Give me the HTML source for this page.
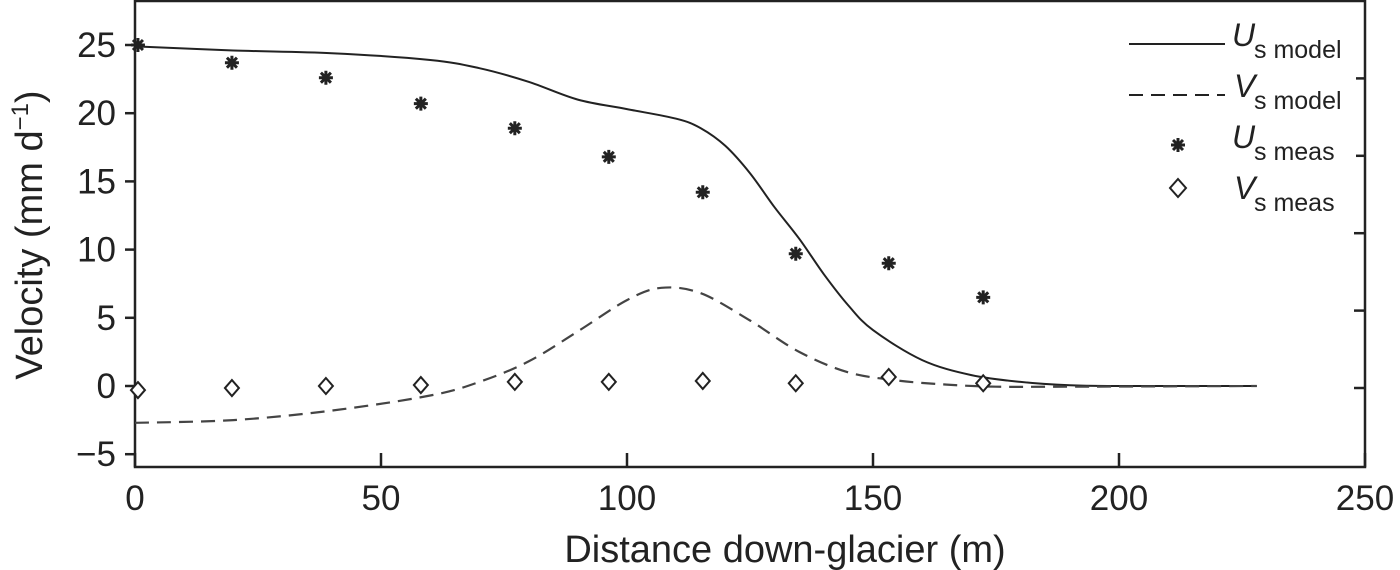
<!DOCTYPE html>
<html><head><meta charset="utf-8"><style>
html,body{margin:0;padding:0;background:#fff;}
svg{display:block;font-family:"Liberation Sans",sans-serif;}
</style></head><body>
<svg id="chart" width="1400" height="570" viewBox="0 0 1400 570">
<g id="axes"></g>
<g id="series"></g>
<g id="legend">
  <rect x="1120" y="14" width="236" height="212" fill="#fff"/>
  <g>
    <line x1="1129" y1="44" x2="1225" y2="44" stroke="#222" stroke-width="2"/>
    <text x="1232" y="46" font-size="32" font-style="italic" fill="#222">U</text>
    <text x="1254" y="58" font-size="25" fill="#222">s model</text>
  </g>
  <g>
    <line x1="1129" y1="95" x2="1225" y2="95" stroke="#222" stroke-width="2" stroke-dasharray="14,8"/>
    <text x="1234" y="97" font-size="32" font-style="italic" fill="#222">V</text>
    <text x="1254" y="109" font-size="25" fill="#222">s model</text>
  </g>
  <g>
    <g stroke="#222" stroke-width="3">
      <line x1="1178" y1="138" x2="1178" y2="152"/><line x1="1171" y1="145" x2="1185" y2="145"/>
      <line x1="1173" y1="140" x2="1183" y2="150"/><line x1="1173" y1="150" x2="1183" y2="140"/>
    </g>
    <text x="1232" y="148" font-size="32" font-style="italic" fill="#222">U</text>
    <text x="1254" y="160" font-size="25" fill="#222">s meas</text>
  </g>
  <g>
    <path d="M1178,179 L1186,188 L1178,197 L1170,188 Z" fill="#fff" stroke="#222" stroke-width="2"/>
    <text x="1234" y="199" font-size="32" font-style="italic" fill="#222">V</text>
    <text x="1254" y="211" font-size="25" fill="#222">s meas</text>
  </g>
</g>
<text x="42" y="235" font-size="38" fill="#222" text-anchor="middle" transform="rotate(-90 42 235)">Velocity (mm d<tspan font-size="24" dy="-14">−1</tspan><tspan dy="14">)</tspan></text>
<text x="785" y="562" font-size="38" fill="#222" text-anchor="middle">Distance down-glacier (m)</text>
</svg>
<script>
const xTicks = [0, 50, 100, 150, 200, 250];
const yTicks = [-5, 0, 5, 10, 15, 20, 25];
const uModelX = [0, 20, 40, 60, 70, 80, 90, 100, 110, 115, 120, 125, 130, 135, 140, 145, 150, 160, 170, 180, 190, 200, 228];
const uModelY = [24.9, 24.6, 24.4, 23.9, 23.3, 22.3, 21.0, 20.3, 19.6, 18.9, 17.6, 15.6, 13.1, 10.8, 8.2, 5.9, 4.1, 1.9, 0.8, 0.3, 0.05, 0, 0];
const vModelX = [0, 20, 40, 60, 70, 80, 90, 100, 107, 115, 125, 135, 145, 155, 165, 175, 190, 228];
const vModelY = [-2.7, -2.5, -1.8, -0.7, 0.3, 1.8, 4.0, 6.3, 7.2, 6.8, 4.8, 2.5, 1.0, 0.4, 0.1, -0.05, -0.05, 0];
const measX = [0.6, 19.7, 38.8, 58.1, 77.2, 96.3, 115.4, 134.3, 153.2, 172.4];
const uMeas = [25.0, 23.7, 22.6, 20.7, 18.9, 16.8, 14.2, 9.7, 9.0, 6.5];
const vMeas = [-0.3, -0.15, 0.0, 0.07, 0.3, 0.3, 0.37, 0.2, 0.66, 0.2];

const NS = "http://www.w3.org/2000/svg";
const X0 = 135, X1 = 1365, Y0 = 467, Y1 = 1;
const xs = v => X0 + v / 250 * (X1 - X0);
const ys = v => 386 - v * 13.64;
function mk(tag, attrs, parent) {
  const e = document.createElementNS(NS, tag);
  for (const k in attrs) e.setAttribute(k, attrs[k]);
  parent.appendChild(e);
  return e;
}
const axes = document.getElementById('axes');
const series = document.getElementById('series');
const frame = mk('rect', {x: X0, y: Y1, width: X1 - X0, height: Y0 - Y1, fill: 'none', stroke: '#222', 'stroke-width': 2.5}, axes);


xTicks.forEach(t => {
  const x = xs(t);
  const tk = mk('line', {x1: x, y1: Y0, x2: x, y2: Y0 - 14, stroke: '#222', 'stroke-width': 2.5}, axes);
  
  
  const lb = mk('text', {x: x, y: 510, 'font-size': 35, 'text-anchor': 'middle', fill: '#222'}, axes);
  lb.textContent = t;
  
  
});
yTicks.forEach(t => {
  const y = ys(t);
  const tk = mk('line', {x1: X0 - 10, y1: y, x2: X0, y2: y, stroke: '#222', 'stroke-width': 2.5}, axes);
  
  
  const lb = mk('text', {x: 116, y: y + 12, 'font-size': 35, 'text-anchor': 'end', fill: '#222'}, axes);
  lb.textContent = t < 0 ? '−' + Math.abs(t) : t;
  
  
});
for (let k = 0; k < 5; k++) {
  const y = 388 - 77.4 * k;
  const tk = mk('line', {x1: X1 - 11, y1: y, x2: X1, y2: y, stroke: '#222', 'stroke-width': 2.5}, axes);
  
  
}
function path(xa, ya) {
  const p = xa.map((v, i) => [xs(v), ys(ya[i])]);
  let d = 'M' + p[0][0].toFixed(1) + ',' + p[0][1].toFixed(1);
  for (let i = 0; i < p.length - 1; i++) {
    const p0 = p[Math.max(0, i - 1)], p1 = p[i], p2 = p[i + 1], p3 = p[Math.min(p.length - 1, i + 2)];
    const c1x = p1[0] + (p2[0] - p0[0]) / 6, c1y = p1[1] + (p2[1] - p0[1]) / 6;
    const c2x = p2[0] - (p3[0] - p1[0]) / 6, c2y = p2[1] - (p3[1] - p1[1]) / 6;
    d += ` C${c1x.toFixed(1)},${c1y.toFixed(1)} ${c2x.toFixed(1)},${c2y.toFixed(1)} ${p2[0].toFixed(1)},${p2[1].toFixed(1)}`;
  }
  return d;
}
const uLine = mk('path', {d: path(uModelX, uModelY), fill: 'none', stroke: '#222', 'stroke-width': 2}, series);


const vLine = mk('path', {d: path(vModelX, vModelY), fill: 'none', stroke: '#444', 'stroke-width': 2.2, 'stroke-dasharray': '14,8'}, series);


measX.forEach((mx, i) => {
  const x = xs(mx), yv = ys(vMeas[i]);
  const d = mk('path', {d: `M${x},${yv - 8} L${x + 7},${yv} L${x},${yv + 8} L${x - 7},${yv} Z`, fill: '#fff', stroke: '#222', 'stroke-width': 2}, series);
  
  
  const yu = ys(uMeas[i]);
  const s = mk('path', {d: `M${x},${yu - 7} V${yu + 7} M${x - 7},${yu} H${x + 7} M${x - 5},${yu - 5} L${x + 5},${yu + 5} M${x - 5},${yu + 5} L${x + 5},${yu - 5}`, stroke: '#222', 'stroke-width': 3, fill: 'none'}, series);
  
  
});
</script>
</body></html>
